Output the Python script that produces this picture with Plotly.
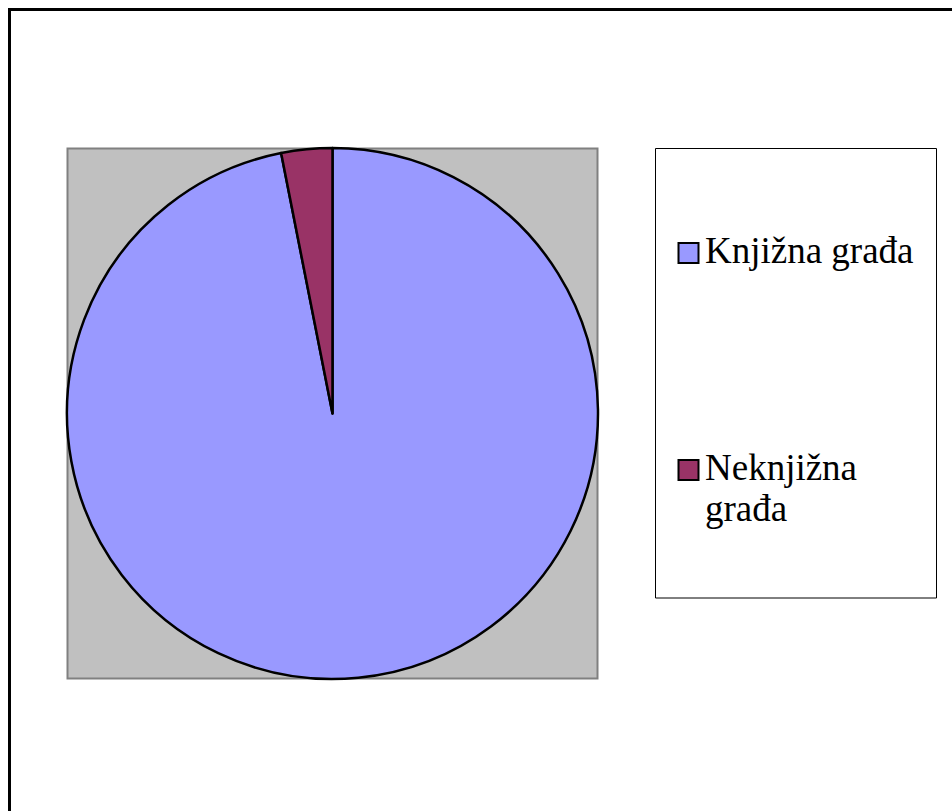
import plotly.graph_objects as go

# Share of library holdings by material type (percent)
categories = ["Knjižna građa", "Neknjižna građa"]
shares = [96.9, 3.1]
slice_colors = ["#9999FF", "#993366"]

W, H = 952, 811


def px_x(v):
    return v / W


def px_y(v):
    return 1 - v / H


fig = go.Figure()

fig.add_trace(go.Pie(
    labels=categories,
    values=shares,
    sort=False,
    direction="clockwise",
    rotation=0,
    marker=dict(colors=slice_colors, line=dict(color="#000000", width=2.5)),
    textinfo="none",
    hoverinfo="label+percent",
    showlegend=False,
    domain=dict(x=[px_x(67), px_x(598)], y=[px_y(679), px_y(148)]),
))

shapes = [
    # outer chart frame
    dict(type="rect", xref="paper", yref="paper",
         x0=px_x(9.5), x1=px_x(W + 20), y0=px_y(H + 20), y1=px_y(9.5),
         line=dict(color="#000000", width=3), fillcolor="rgba(0,0,0,0)", layer="below"),
    # plot area
    dict(type="rect", xref="paper", yref="paper",
         x0=px_x(67.5), x1=px_x(597.5), y0=px_y(678.5), y1=px_y(148.5),
         line=dict(color="#808080", width=2), fillcolor="#C0C0C0", layer="below"),
    # legend box
    dict(type="rect", xref="paper", yref="paper",
         x0=px_x(655.5), x1=px_x(936.5), y0=px_y(598), y1=px_y(148.5),
         line=dict(color="#000000", width=1), fillcolor="#FFFFFF", layer="below"),
]

annotations = []
legend_rows = [253, 470]  # swatch centres (px from top)
line_step = 41           # baseline distance for wrapped legend labels
font = dict(family="Liberation Serif, Times New Roman, serif", size=37, color="#000000")
for label, color, yc in zip(categories, slice_colors, legend_rows):
    shapes.append(dict(type="rect", xref="paper", yref="paper",
                       x0=px_x(678.5), x1=px_x(698.5), y0=px_y(yc + 10), y1=px_y(yc - 10),
                       line=dict(color="#000000", width=2), fillcolor=color, layer="above"))
    lines = [label] if len(label) <= 13 else label.split(" ")
    for i, line in enumerate(lines):
        annotations.append(dict(
            xref="paper", yref="paper", x=px_x(703), y=px_y(yc - 25 + i * line_step),
            xanchor="left", yanchor="top", align="left", showarrow=False,
            text=line, font=font,
        ))

fig.update_layout(
    width=W, height=H,
    margin=dict(l=0, r=0, t=0, b=0),
    paper_bgcolor="#FFFFFF",
    plot_bgcolor="#FFFFFF",
    shapes=shapes,
    annotations=annotations,
)

fig.write_html("out.html")
